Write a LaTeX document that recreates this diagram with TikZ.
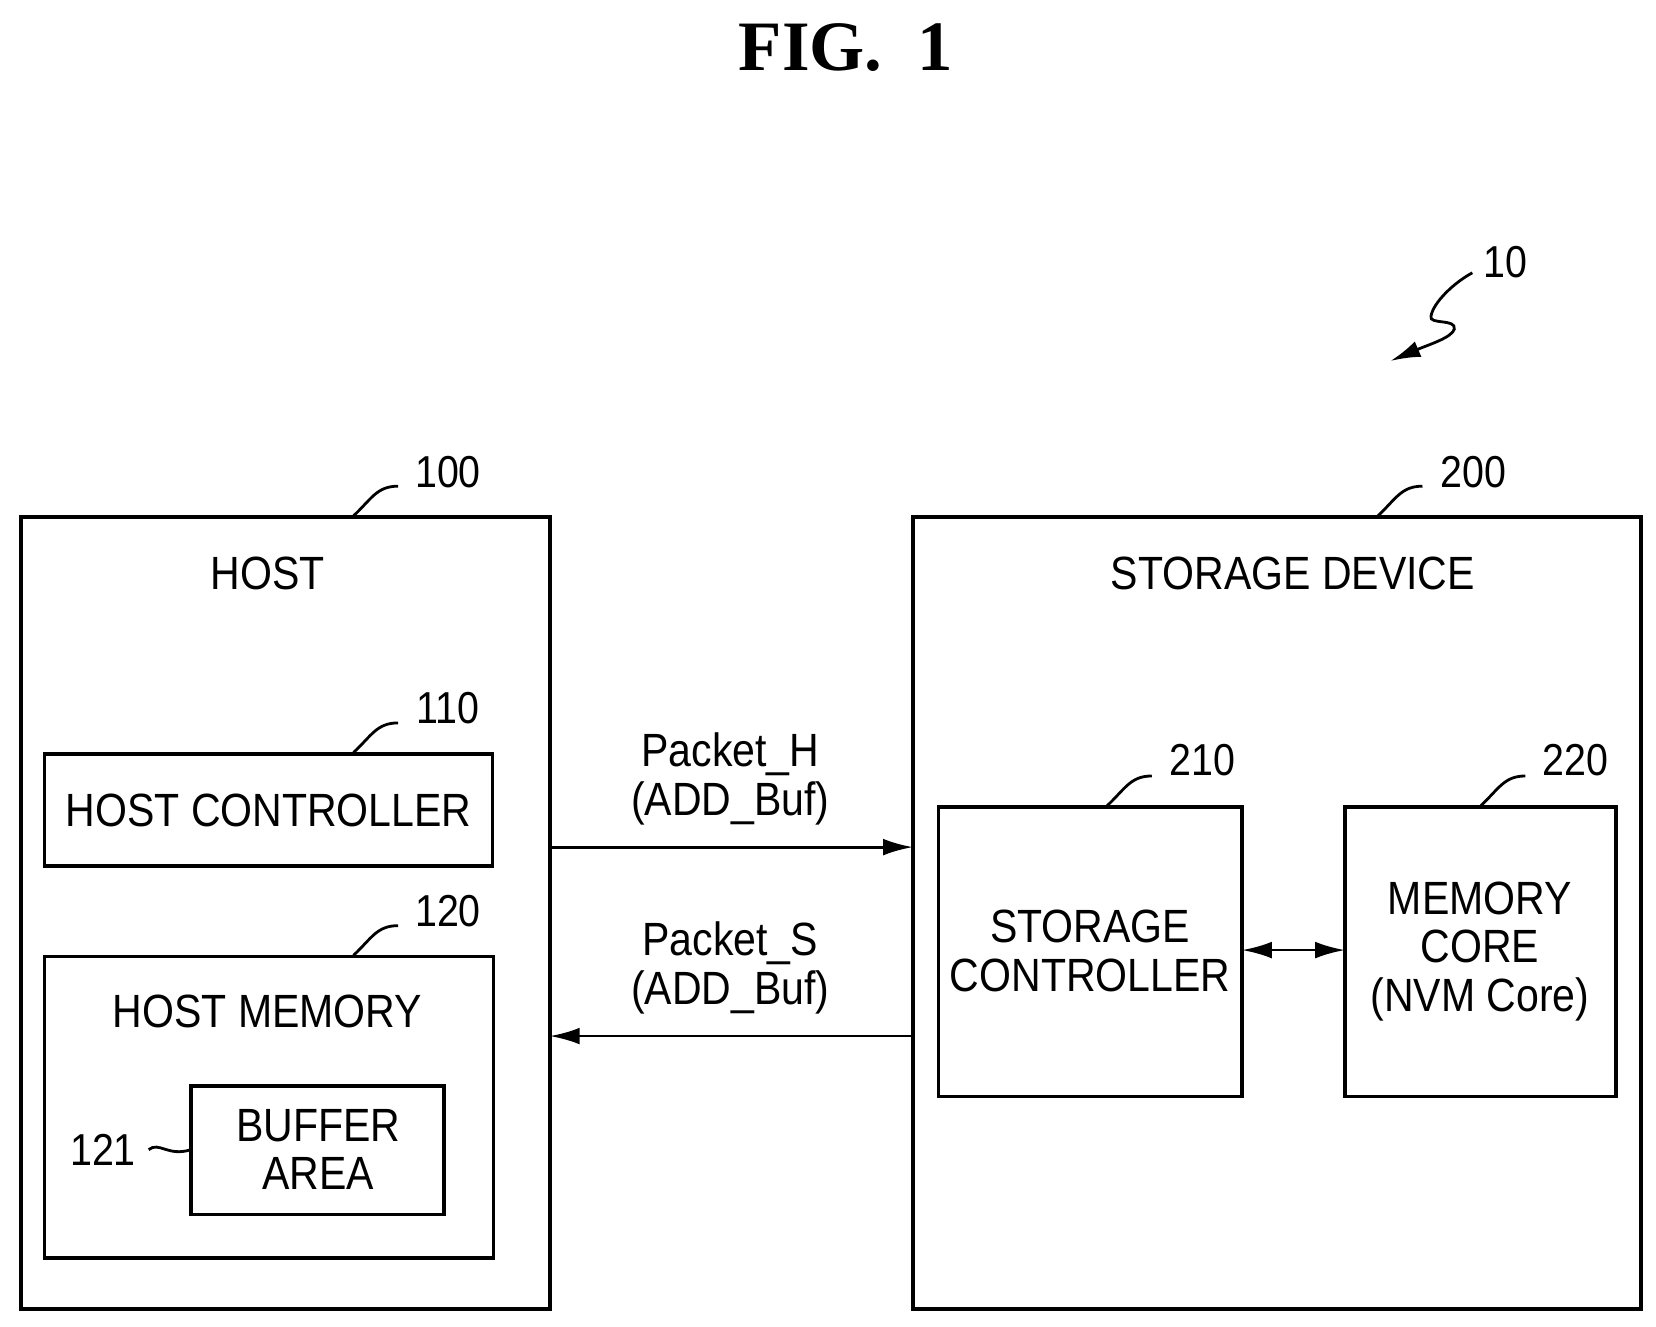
\documentclass[tikz,border=0pt]{standalone}
\usepackage{fontspec}
\setmainfont[FakeStretch=0.88]{Liberation Sans}
\newfontfamily\figfont{Liberation Serif}
\usetikzlibrary{positioning,arrows.meta}
\begin{document}
\begin{tikzpicture}[x=0.02cm,y=-0.02cm,
blocknode/.style={rectangle, draw=black, line width=2pt, inner sep=0pt},
labelnode/.style={font=\fontsize{25}{30}\selectfont},
refnode/.style={font=\fontsize{24}{28}\selectfont},
leader/.style={line width=1.5pt},
tip/.style={-{Latex[length=16pt,width=9pt]}},
]
\useasboundingbox (0,0) rectangle (1560,1250);
%Title
\node[font=\figfont\bfseries\fontsize{38}{44}\selectfont] (title) at (797,45) {FIG.\ \ 1};

%Boxes
\draw[blocknode] (20,487) rectangle (518,1233);
\draw[blocknode] (42,710) rectangle (464,816);
\draw[blocknode] (42,901) rectangle (465,1185);
\draw[blocknode] (180,1023) rectangle (418,1144);
\draw[blocknode] (860,487) rectangle (1546,1233);
\draw[blocknode] (884,760) rectangle (1170,1033);
\draw[blocknode] (1267,760) rectangle (1522,1033);

%Text
\node[labelnode] (host) at (252,540) {HOST};
\node[labelnode] (hostctrl) at (253,763) {HOST CONTROLLER};
\node[labelnode] (hostmem) at (252,953) {HOST MEMORY};
\node[labelnode, align=center] (buffer) at (300,1083) {BUFFER\\[-4pt]AREA};
\node[labelnode] (storage) at (1218,540) {STORAGE DEVICE};
\node[labelnode, align=center] (storctrl) at (1027,896) {STORAGE\\[-4pt]CONTROLLER};
\node[labelnode, align=center] (memcore) at (1394,896) {MEMORY\\[-4pt]CORE\\[-4pt](NVM Core)};
\node[labelnode, align=center] (pkth) at (688,734) {Packet\_H\\[-4pt](ADD\_Buf)};
\node[labelnode, align=center] (pkts) at (688,912) {Packet\_S\\[-4pt](ADD\_Buf)};

%Reference numbers
\node[refnode] (r10) at (1418,247) {10};
\node[refnode] (r100) at (422,445) {100};
\node[refnode] (r110) at (422,667) {110};
\node[refnode] (r120) at (422,858) {120};
\node[refnode] (r121) at (97,1083) {121};
\node[refnode] (r200) at (1388,445) {200};
\node[refnode] (r210) at (1133,716) {210};
\node[refnode] (r220) at (1484,716) {220};

%Leaders
\draw[leader] (333,486) .. controls (350,470) and (355,458) .. (375,458);
\draw[leader] (333,709) .. controls (350,693) and (355,681) .. (375,681);
\draw[leader] (333,900) .. controls (350,884) and (355,872) .. (375,872);
\draw[leader] (1298,486) .. controls (1315,470) and (1320,458) .. (1340,458);
\draw[leader] (1043,759) .. controls (1060,743) and (1065,731) .. (1085,731);
\draw[leader] (1395,759) .. controls (1412,743) and (1417,731) .. (1437,731);
\draw[leader] (140,1083) .. controls (150,1075) and (158,1090) .. (180,1083);
\draw[leader, tip] (1387,257) .. controls (1370,266) and (1350,285) .. (1348,298)
  .. controls (1346,306) and (1372,300) .. (1370,310) .. controls (1368,318) and (1345,325) .. (1310,340);

%Lines
\draw[line width=1.5pt, tip] (518,798) -- (860,798);
\draw[line width=1.5pt, tip] (860,976) -- (518,976);
\draw[line width=1.5pt, {Latex[length=16pt,width=9pt]}-{Latex[length=16pt,width=9pt]}] (1170,895) -- (1267,895);
\end{tikzpicture}
\end{document}
